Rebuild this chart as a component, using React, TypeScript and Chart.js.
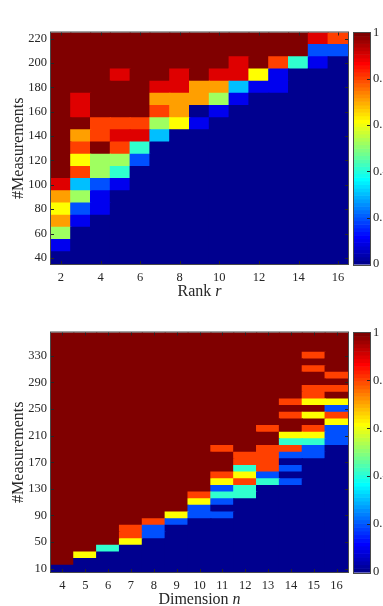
import React, { useEffect, useRef } from 'react';
import { Chart, registerables } from 'chart.js';

Chart.register(...registerables);

// ---------- Top panel: success rate vs rank r ----------
const rankCols = [2, 3, 4, 5, 6, 7, 8, 9, 10, 11, 12, 13, 14, 15, 16];
const rankRows = [40, 50, 60, 70, 80, 90, 100, 110, 120, 130, 140, 150, 160, 170, 180, 190, 200, 210, 220];
const rankXTicks = [2, 4, 6, 8, 10, 12, 14, 16];
const rankYTicks = [40, 60, 80, 100, 120, 140, 160, 180, 200, 220];
// one array per rank column, values from the bottom row (40) to the top row (220)
const rankRate: number[][] = [
  /* r=2  */ [0, 0.1, 0.52, 0.71, 0.62, 0.71, 0.9, 1, 1, 1, 1, 1, 1, 1, 1, 1, 1, 1, 1],
  /* r=3  */ [0, 0, 0, 0.1, 0.2, 0.52, 0.31, 0.81, 0.62, 0.81, 0.71, 1, 0.9, 0.9, 1, 1, 1, 1, 1],
  /* r=4  */ [0, 0, 0, 0, 0.1, 0.1, 0.2, 0.52, 0.52, 1, 0.81, 0.81, 1, 1, 1, 1, 1, 1, 1],
  /* r=5  */ [0, 0, 0, 0, 0, 0, 0.1, 0.41, 0.52, 0.81, 0.9, 0.81, 1, 1, 1, 0.9, 1, 1, 1],
  /* r=6  */ [0, 0, 0, 0, 0, 0, 0, 0, 0.2, 0.41, 0.9, 0.81, 1, 1, 1, 1, 1, 1, 1],
  /* r=7  */ [0, 0, 0, 0, 0, 0, 0, 0, 0, 0, 0.31, 0.52, 0.81, 0.71, 0.9, 1, 1, 1, 1],
  /* r=8  */ [0, 0, 0, 0, 0, 0, 0, 0, 0, 0, 0, 0.62, 0.71, 0.71, 0.9, 0.9, 1, 1, 1],
  /* r=9  */ [0, 0, 0, 0, 0, 0, 0, 0, 0, 0, 0, 0.1, 0, 0.71, 0.71, 1, 1, 1, 1],
  /* r=10 */ [0, 0, 0, 0, 0, 0, 0, 0, 0, 0, 0, 0, 0.1, 0.52, 0.71, 0.9, 1, 1, 1],
  /* r=11 */ [0, 0, 0, 0, 0, 0, 0, 0, 0, 0, 0, 0, 0, 0.1, 0.31, 0.9, 0.9, 1, 1],
  /* r=12 */ [0, 0, 0, 0, 0, 0, 0, 0, 0, 0, 0, 0, 0, 0, 0.1, 0.62, 1, 1, 1],
  /* r=13 */ [0, 0, 0, 0, 0, 0, 0, 0, 0, 0, 0, 0, 0, 0, 0.1, 0.1, 0.81, 1, 1],
  /* r=14 */ [0, 0, 0, 0, 0, 0, 0, 0, 0, 0, 0, 0, 0, 0, 0, 0, 0.41, 1, 1],
  /* r=15 */ [0, 0, 0, 0, 0, 0, 0, 0, 0, 0, 0, 0, 0, 0, 0, 0, 0.1, 0.2, 0.9],
  /* r=16 */ [0, 0, 0, 0, 0, 0, 0, 0, 0, 0, 0, 0, 0, 0, 0, 0, 0, 0.2, 0.81],
];

// ---------- Bottom panel: success rate vs dimension n ----------
const dimCols = [4, 5, 6, 7, 8, 9, 10, 11, 12, 13, 14, 15, 16];
const dimRows = [
  10, 20, 30, 40, 50, 60, 70, 80, 90, 100,
  110, 120, 130, 140, 150, 160, 170, 180, 190, 200,
  210, 220, 230, 240, 250, 260, 270, 280, 290, 300,
  310, 320, 330, 340, 350, 360,
];
const dimXTicks = [4, 5, 6, 7, 8, 9, 10, 11, 12, 13, 14, 15, 16];
const dimYTicks = [10, 50, 90, 130, 170, 210, 250, 290, 330];
// one array per dimension column, values from the bottom row (10) to the top row (360)
const dimRate: number[][] = [
  /* n=4  */ [0, 1, 1, 1, 1, 1, 1, 1, 1, 1, /**/ 1, 1, 1, 1, 1, 1, 1, 1, 1, 1, /**/ 1, 1, 1, 1, 1, 1, 1, 1, 1, 1, /**/ 1, 1, 1, 1, 1, 1],
  /* n=5  */ [0, 0, 0.62, 1, 1, 1, 1, 1, 1, 1, /**/ 1, 1, 1, 1, 1, 1, 1, 1, 1, 1, /**/ 1, 1, 1, 1, 1, 1, 1, 1, 1, 1, /**/ 1, 1, 1, 1, 1, 1],
  /* n=6  */ [0, 0, 0, 0.41, 1, 1, 1, 1, 1, 1, /**/ 1, 1, 1, 1, 1, 1, 1, 1, 1, 1, /**/ 1, 1, 1, 1, 1, 1, 1, 1, 1, 1, /**/ 1, 1, 1, 1, 1, 1],
  /* n=7  */ [0, 0, 0, 0, 0.62, 0.81, 0.81, 1, 1, 1, /**/ 1, 1, 1, 1, 1, 1, 1, 1, 1, 1, /**/ 1, 1, 1, 1, 1, 1, 1, 1, 1, 1, /**/ 1, 1, 1, 1, 1, 1],
  /* n=8  */ [0, 0, 0, 0, 0, 0.2, 0.2, 0.81, 1, 1, /**/ 1, 1, 1, 1, 1, 1, 1, 1, 1, 1, /**/ 1, 1, 1, 1, 1, 1, 1, 1, 1, 1, /**/ 1, 1, 1, 1, 1, 1],
  /* n=9  */ [0, 0, 0, 0, 0, 0, 0, 0.2, 0.62, 1, /**/ 1, 1, 1, 1, 1, 1, 1, 1, 1, 1, /**/ 1, 1, 1, 1, 1, 1, 1, 1, 1, 1, /**/ 1, 1, 1, 1, 1, 1],
  /* n=10 */ [0, 0, 0, 0, 0, 0, 0, 0, 0.2, 0.2, /**/ 0.62, 0.81, 1, 1, 1, 1, 1, 1, 1, 1, /**/ 1, 1, 1, 1, 1, 1, 1, 1, 1, 1, /**/ 1, 1, 1, 1, 1, 1],
  /* n=11 */ [0, 0, 0, 0, 0, 0, 0, 0, 0.2, 0, /**/ 0.2, 0.41, 0.2, 0.62, 0.81, 1, 1, 1, 0.81, 1, /**/ 1, 1, 1, 1, 1, 1, 1, 1, 1, 1, /**/ 1, 1, 1, 1, 1, 1],
  /* n=12 */ [0, 0, 0, 0, 0, 0, 0, 0, 0, 0, /**/ 0, 0.41, 0.41, 0.81, 0.62, 0.41, 0.81, 0.81, 1, 1, /**/ 1, 1, 1, 1, 1, 1, 1, 1, 1, 1, /**/ 1, 1, 1, 1, 1, 1],
  /* n=13 */ [0, 0, 0, 0, 0, 0, 0, 0, 0, 0, /**/ 0, 0, 0, 0.41, 0.2, 0.81, 0.81, 0.81, 0.81, 1, /**/ 1, 0.81, 1, 1, 1, 1, 1, 1, 1, 1, /**/ 1, 1, 1, 1, 1, 1],
  /* n=14 */ [0, 0, 0, 0, 0, 0, 0, 0, 0, 0, /**/ 0, 0, 0, 0.2, 0, 0.2, 0, 0.2, 0.81, 0.41, /**/ 0.62, 1, 1, 0.81, 1, 0.81, 1, 1, 1, 1, /**/ 1, 1, 1, 1, 1, 1],
  /* n=15 */ [0, 0, 0, 0, 0, 0, 0, 0, 0, 0, /**/ 0, 0, 0, 0, 0, 0, 0, 0.2, 0.2, 0.41, /**/ 0.62, 0.81, 1, 0.62, 1, 0.62, 0.81, 0.81, 1, 1, /**/ 0.81, 1, 0.81, 1, 1, 1],
  /* n=16 */ [0, 0, 0, 0, 0, 0, 0, 0, 0, 0, /**/ 0, 0, 0, 0, 0, 0, 0, 0, 0, 0.2, /**/ 0.2, 0.2, 0.62, 0.81, 0.2, 0.62, 1, 0.81, 1, 0.81, /**/ 1, 1, 1, 1, 1, 1],
];

const colorbarTicks = [0, 0.2, 0.4, 0.6, 0.8, 1];

// ---------- styling ----------
const INK = '#262626';
const FRAME = '#4a4a4a';
const FONT = '"Liberation Serif", "DejaVu Serif", serif';
const LEVELS = 64;

function jetAt(x: number): string {
  const c = (t: number) => Math.max(0, Math.min(1, t));
  const r = c(1.5 - Math.abs(4 * x - 3));
  const g = c(1.5 - Math.abs(4 * x - 2));
  const b = c(1.5 - Math.abs(4 * x - 1));
  return `rgb(${Math.round(r * 255)},${Math.round(g * 255)},${Math.round(b * 255)})`;
}

// 64-level jet colormap lookup (value in [0, 1])
function jet(v: number): string {
  const idx = Math.max(0, Math.min(LEVELS - 1, Math.floor(v * LEVELS)));
  return jetAt((idx + 1) / LEVELS);
}

const heatFrame = {
  id: 'heatFrame',
  afterDraw(chart: any, _args: any, opts: any) {
    const { ctx, chartArea: a, scales } = chart;
    const xs = scales.x;
    const ys = scales.y;
    const cb = scales.cb;
    ctx.save();

    // colorbar
    const cbLeft = a.right + 6;
    const cbW = 16;
    for (let k = 0; k < LEVELS; k++) {
      const yTop = cb.getPixelForValue((k + 1) / LEVELS);
      const yBot = cb.getPixelForValue(k / LEVELS);
      ctx.fillStyle = jetAt((k + 1) / LEVELS);
      ctx.fillRect(cbLeft, yTop, cbW, yBot - yTop + 0.6);
    }
    ctx.strokeStyle = FRAME;
    ctx.lineWidth = 1;
    ctx.strokeRect(cbLeft - 0.5, Math.round(a.top) - 0.5, cbW + 1, Math.round(a.bottom - a.top) + 1);
    ctx.strokeStyle = INK;
    ctx.beginPath();
    for (const t of cb.ticks) {
      if (t.value <= 0 || t.value >= 1) continue;
      const py = Math.round(cb.getPixelForValue(t.value)) + 0.5;
      ctx.moveTo(cbLeft + cbW, py);
      ctx.lineTo(cbLeft + cbW - 3, py);
    }
    ctx.stroke();

    // inward tick marks
    ctx.strokeStyle = INK;
    ctx.beginPath();
    for (const t of xs.ticks) {
      const px = Math.round(xs.getPixelForValue(t.value)) + 0.5;
      ctx.moveTo(px, a.bottom);
      ctx.lineTo(px, a.bottom - 3);
      ctx.moveTo(px, a.top);
      ctx.lineTo(px, a.top + 3);
    }
    for (const t of ys.ticks) {
      const py = Math.round(ys.getPixelForValue(t.value)) + 0.5;
      ctx.moveTo(a.left, py);
      ctx.lineTo(a.left + 3, py);
      ctx.moveTo(a.right, py);
      ctx.lineTo(a.right - 3, py);
    }
    ctx.stroke();

    // plot frame
    ctx.strokeStyle = FRAME;
    ctx.strokeRect(a.left - 0.5, a.top - 0.5, a.right - a.left + 1, a.bottom - a.top + 1);

    // x-axis title with italic variable
    const normal = `16px ${FONT}`;
    const italic = `italic 16px ${FONT}`;
    ctx.font = normal;
    const w1 = ctx.measureText(opts.main).width;
    ctx.font = italic;
    const w2 = ctx.measureText(opts.variable).width;
    const cx = (a.left + a.right) / 2;
    const sx = cx - (w1 + w2) / 2;
    const by = a.bottom + opts.titleOffset;
    ctx.fillStyle = INK;
    ctx.textAlign = 'left';
    ctx.textBaseline = 'alphabetic';
    ctx.font = normal;
    ctx.fillText(opts.main, sx, by);
    ctx.font = italic;
    ctx.fillText(opts.variable, sx + w1, by);

    ctx.restore();
  },
};

function buildConfig(
  cols: number[],
  rows: number[],
  rate: number[][],
  xTicks: number[],
  yTicks: number[],
  xMain: string,
  xVar: string,
  padTop: number,
  xAxisHeight: number,
  titleOffset: number,
): any {
  const rowStep = rows[1] - rows[0];
  const colStep = cols[1] - cols[0];
  const half = rowStep / 2;
  const datasets = rows.map((row, ri) => ({
    data: cols.map((c) => ({ x: c, y: [row - half, row + half] })),
    backgroundColor: cols.map((_c, ci) => jet(rate[ci][ri])),
    borderWidth: 0,
    inflateAmount: 0.6,
    grouped: false,
    barPercentage: 1,
    categoryPercentage: 1,
  }));
  const tickFont = { family: FONT, size: 12.5 };
  return {
    type: 'bar',
    data: { datasets },
    plugins: [heatFrame],
    options: {
      animation: false,
      responsive: false,
      events: [],
      layout: { padding: { top: padTop, left: 0, right: 0, bottom: 0 } },
      plugins: {
        legend: { display: false },
        tooltip: { enabled: false },
        heatFrame: { main: xMain, variable: xVar, titleOffset },
      },
      scales: {
        x: {
          type: 'linear',
          offset: false,
          min: cols[0] - colStep / 2,
          max: cols[cols.length - 1] + colStep / 2,
          afterBuildTicks: (s: any) => {
            s.ticks = xTicks.map((v) => ({ value: v }));
          },
          afterFit: (s: any) => {
            s.height = xAxisHeight;
          },
          grid: { display: false, drawTicks: false, offset: false },
          border: { display: false },
          ticks: { font: tickFont, color: INK, padding: 6, maxRotation: 0, autoSkip: false, callback: (v: number) => `${v}` },
        },
        y: {
          type: 'linear',
          beginAtZero: false,
          min: rows[0] - half,
          max: rows[rows.length - 1] + half,
          afterBuildTicks: (s: any) => {
            s.ticks = yTicks.map((v) => ({ value: v }));
          },
          afterFit: (s: any) => {
            s.width = 51;
          },
          grid: { display: false, drawTicks: false },
          border: { display: false },
          ticks: { font: tickFont, color: INK, padding: 4, callback: (v: number) => `${v}` },
          title: {
            display: true,
            text: '#Measurements',
            color: INK,
            font: { family: FONT, size: 16 },
            padding: { top: 9, bottom: 0 },
          },
        },
        cb: {
          type: 'linear',
          position: 'right',
          min: 0,
          max: 1,
          afterBuildTicks: (s: any) => {
            s.ticks = colorbarTicks.map((v) => ({ value: v }));
          },
          afterFit: (s: any) => {
            s.width = 35;
          },
          grid: { display: false, drawTicks: false },
          border: { display: false },
          ticks: { font: tickFont, color: INK, padding: 25, callback: (v: number) => `${v}` },
        },
      },
    },
  };
}

function HeatPanel(props: { config: any; width: number; height: number; top: number }) {
  const ref = useRef<HTMLCanvasElement | null>(null);
  useEffect(() => {
    if (!ref.current) return;
    const chart = new Chart(ref.current, props.config);
    return () => chart.destroy();
  }, []);
  return (
    <canvas
      ref={ref}
      width={props.width}
      height={props.height}
      style={{ position: 'absolute', left: 0, top: props.top, width: props.width, height: props.height }}
    />
  );
}

export default function App() {
  const topConfig = buildConfig(rankCols, rankRows, rankRate, rankXTicks, rankYTicks, 'Rank ', 'r', 10, 36, 32);
  const bottomConfig = buildConfig(dimCols, dimRows, dimRate, dimXTicks, dimYTicks, 'Dimension ', 'n', 19, 34, 31.5);
  return (
    <div style={{ position: 'absolute', left: 0, top: 0, width: 383, height: 606, background: '#fff', overflow: 'hidden' }}>
      <HeatPanel config={topConfig} width={383} height={300} top={0} />
      <HeatPanel config={bottomConfig} width={383} height={306} top={300} />
    </div>
  );
}
